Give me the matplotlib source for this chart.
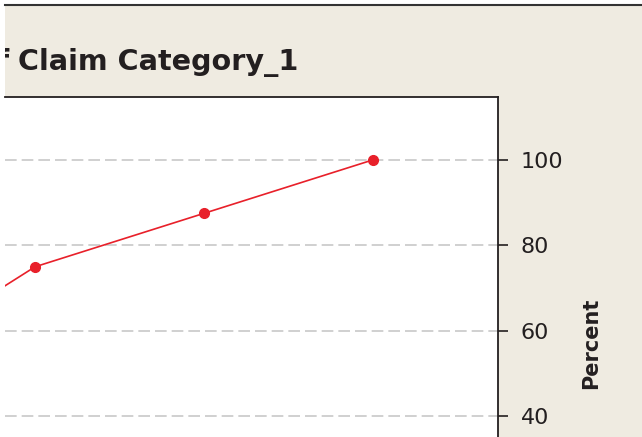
import matplotlib.pyplot as plt

# cumulative percent of the pareto line (only the right part is visible)
categories = [0, 1, 2, 3]
cum_percent = [50, 75, 87.5, 100]
yticks = [40, 60, 80, 100]
title_start = "Pareto Chart of"
title_end = "Claim Category_1"

W, H = 642, 437
fig = plt.figure(figsize=(W / 100, H / 100), dpi=100)
fig.patch.set_facecolor("white")

beige = "#EFEBE1"

# beige frame with the dark top border
bg = fig.add_axes([5 / W, 0, 1 - 5 / W, 1 - 5 / H])
bg.set_facecolor(beige)
bg.set_xticks([])
bg.set_yticks([])
for s in ["left", "right", "bottom"]:
    bg.spines[s].set_visible(False)
bg.spines["top"].set_color("#333333")
bg.spines["top"].set_linewidth(1.5)
bg.set_xlim(0, W - 5)
bg.set_ylim(0, H - 5)
# title is cut by the frame on the left
bg.text(9 - 5, H - 70, title_start, ha="right", va="baseline",
        fontsize=20.6, fontweight="bold", color="#231F20", clip_on=True)
bg.text(18 - 5, H - 70, title_end, ha="left", va="baseline",
        fontsize=20.6, fontweight="bold", color="#231F20", clip_on=True)

# plot area
ax = fig.add_axes([5 / W, 0, (498 - 5) / W, (H - 97) / H])
ax.set_facecolor("white")
ax.plot(categories, cum_percent, color="#E8202A", lw=1.2, marker="o",
        markersize=7, zorder=3)
ax.set_xlim(0.822, 3.74)
ax.set_ylim(35.2, 114.7)
ax.set_xticks([])
ax.yaxis.tick_right()
ax.set_yticks(yticks)
ax.tick_params(axis="y", direction="out", length=7.5, width=1.2,
               pad=9, labelsize=16, colors="#231F20")
ax.grid(axis="y", color="#C8C8C8", linestyle=(0, (7, 3)), lw=1.2, zorder=0)
ax.spines["left"].set_visible(False)
ax.spines["bottom"].set_visible(False)
ax.spines["top"].set_color("#231F20")
ax.spines["right"].set_color("#231F20")
ax.spines["top"].set_linewidth(1.3)
ax.spines["right"].set_linewidth(1.3)

fig.text(591 / W, 1 - 343 / H, "Percent", rotation=90, ha="center",
         va="center", fontsize=15, fontweight="bold", color="#231F20")

fig.savefig("out.png", dpi=100)
